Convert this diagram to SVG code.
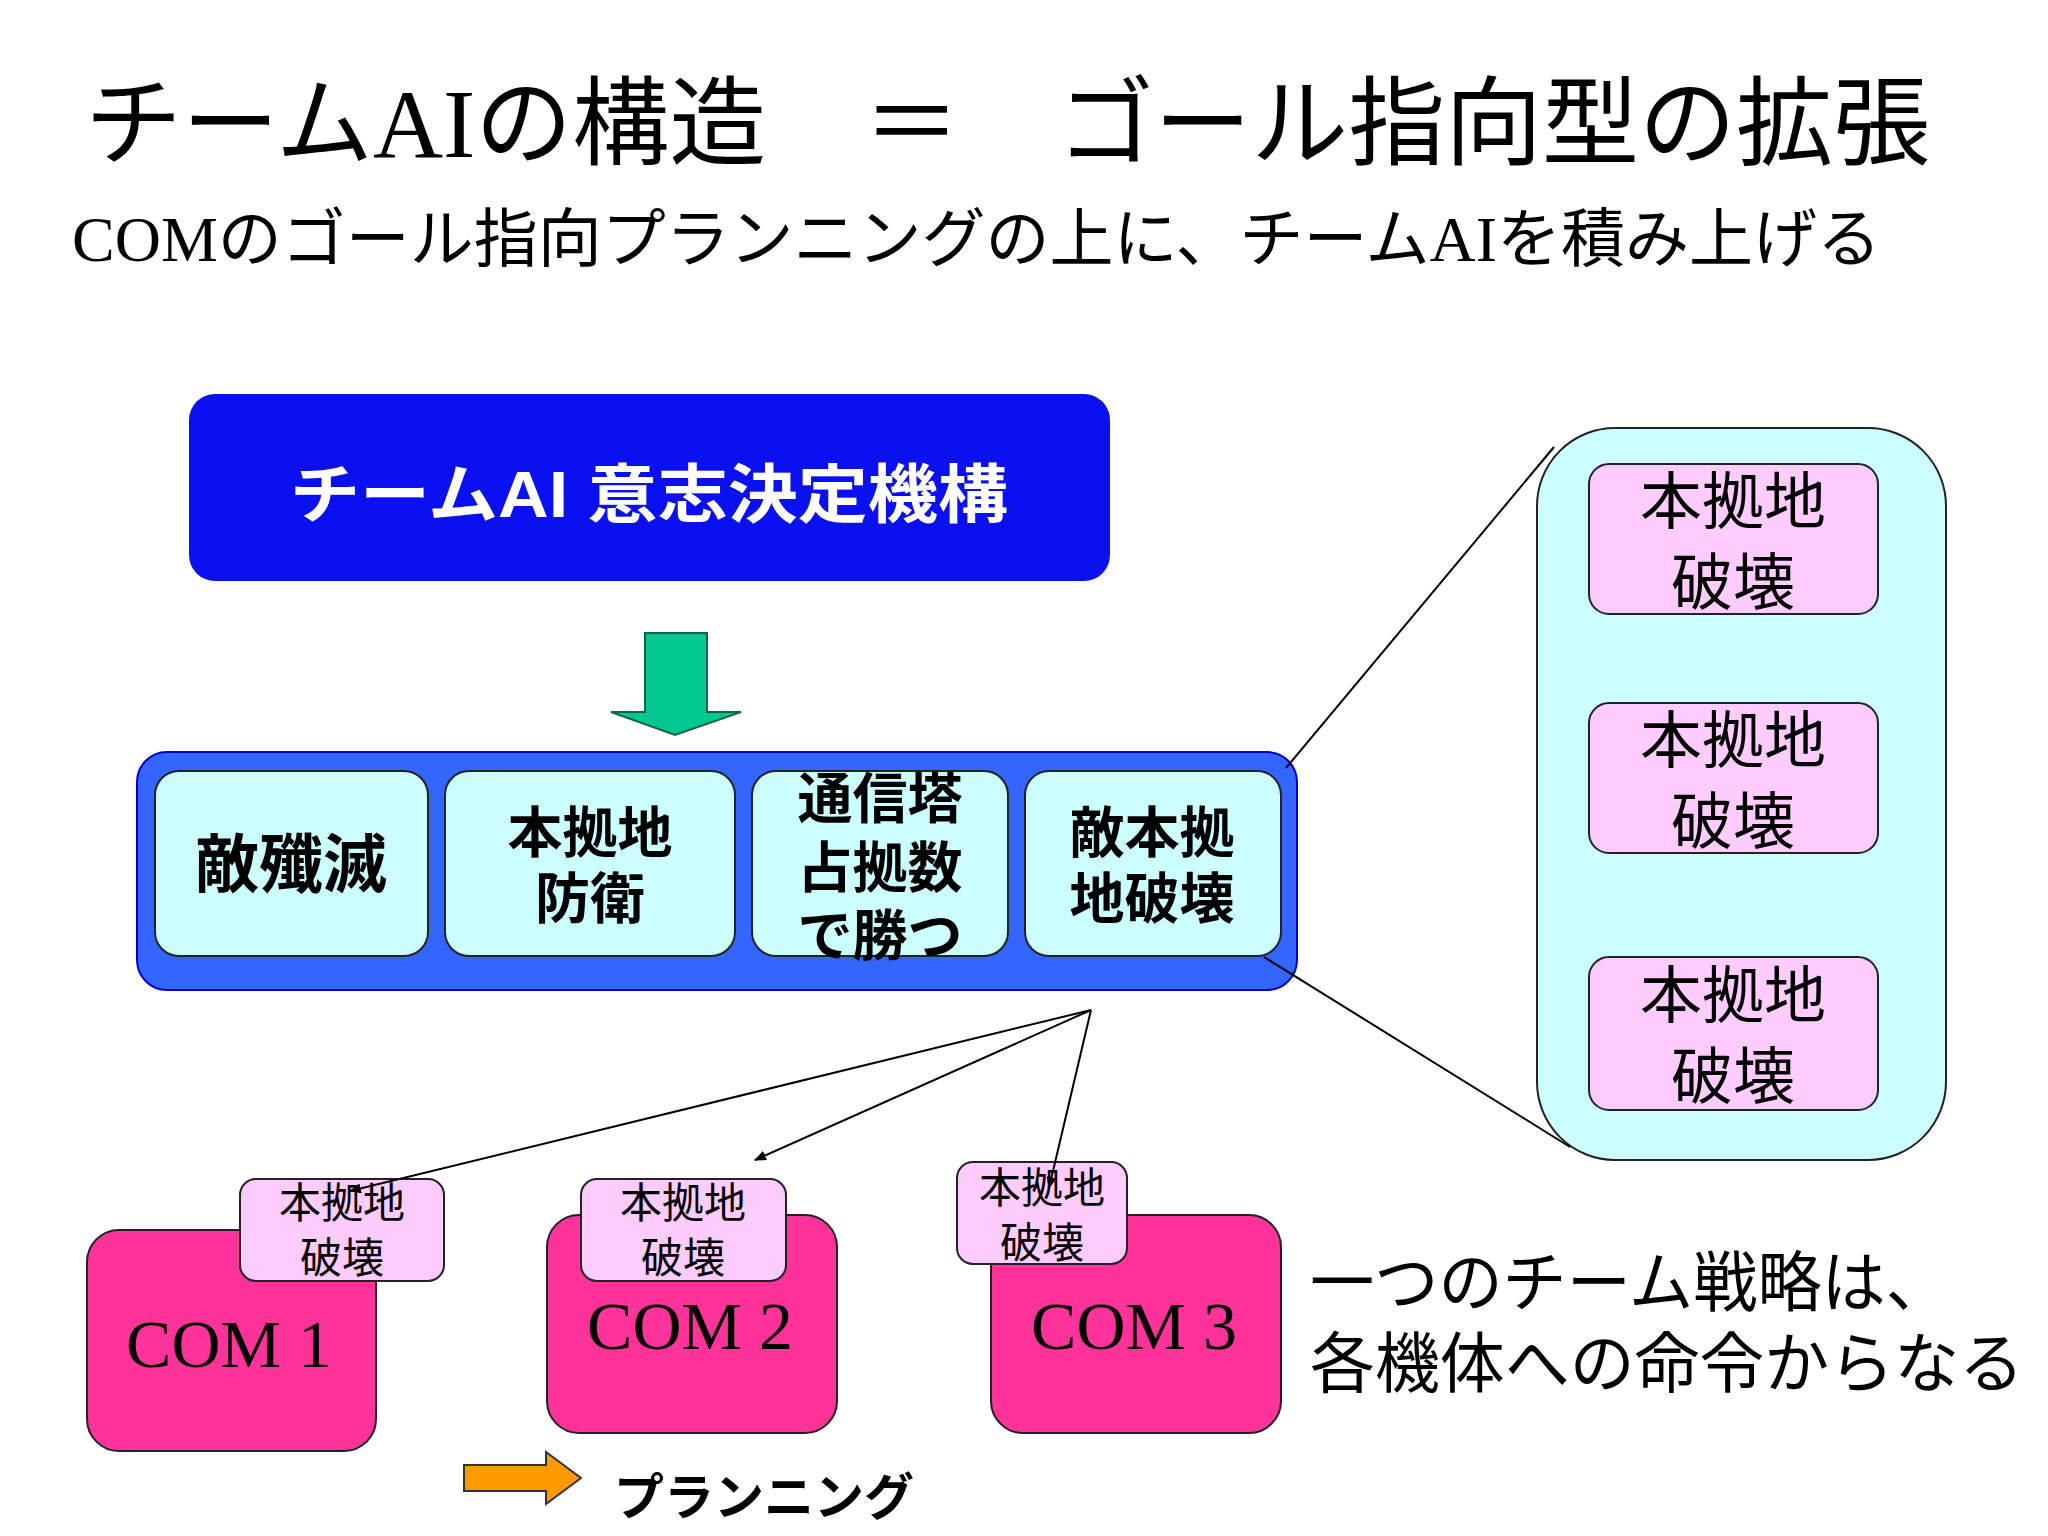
<svg xmlns="http://www.w3.org/2000/svg" width="2048" height="1536" viewBox="0 0 2048 1536">
<style>
.j{font-family:"Liberation Sans","Noto Sans CJK JP",sans-serif}
.s{font-family:"Liberation Serif","Noto Sans CJK JP",serif}
.b{font-weight:bold}
.cy{fill:#ccffff;stroke:#222;stroke-width:2}
.pk{fill:#ffccff;stroke:#222;stroke-width:2}
.com{fill:#ff3399;stroke:#222;stroke-width:2}
.ln{stroke:#000;stroke-width:2;fill:none}
</style>
<defs><marker id="ah" markerWidth="12" markerHeight="10" refX="11" refY="5" orient="auto" markerUnits="userSpaceOnUse"><path d="M0,0 L12,5 L0,10 Z" fill="#000"/></marker></defs>
<rect width="2048" height="1536" fill="#fff"/>
<text class="s" x="85" y="157" font-size="97" textLength="1845" lengthAdjust="spacingAndGlyphs">チームAIの構造　＝　ゴール指向型の拡張</text>
<text class="s" x="72" y="261" font-size="64" textLength="1809" lengthAdjust="spacingAndGlyphs">COMのゴール指向プランニングの上に、チームAIを積み上げる</text>
<g id="top"><rect x="189" y="394" width="921" height="187" rx="26" fill="#0a10f0"/>
<text class="j b" x="649" y="517" font-size="64" fill="#fff" text-anchor="middle" textLength="718" lengthAdjust="spacingAndGlyphs">チームAI  意志決定機構</text></g>
<g id="greenArrow"><path d="M645,633 H707 V712 H741 L675,735 L611,712 H645 Z" fill="#00c890" stroke="#116644" stroke-width="2"/></g>
<g id="strategies"><rect x="137" y="752" width="1160" height="238" rx="30" fill="#3366ff" stroke="#0000cc" stroke-width="2"/>
<rect class="cy" x="155" y="771" width="273" height="185" rx="24"/>
<text class="j b" x="291" y="887" font-size="64" text-anchor="middle">敵殲滅</text>
<rect class="cy" x="445" y="771" width="290" height="185" rx="24"/>
<text class="j b" x="590" y="852" font-size="55" text-anchor="middle">本拠地</text><text class="j b" x="590" y="918" font-size="55" text-anchor="middle">防衛</text>
<rect class="cy" x="752" y="771" width="256" height="185" rx="24"/>
<text class="j b" x="880" y="818" font-size="55" text-anchor="middle">通信塔</text><text class="j b" x="880" y="887" font-size="55" text-anchor="middle">占拠数</text><text class="j b" x="880" y="955" font-size="55" text-anchor="middle">で勝つ</text>
<rect class="cy" x="1025" y="771" width="256" height="185" rx="24"/>
<text class="j b" x="1152" y="852" font-size="55" text-anchor="middle">敵本拠</text><text class="j b" x="1152" y="918" font-size="55" text-anchor="middle">地破壊</text></g>
<g id="panel"><rect class="cy" x="1537" y="428" width="409" height="732" rx="78"/>
<rect class="pk" x="1589" y="464" width="289" height="150" rx="20"/>
<text class="j" x="1733" y="524" font-size="62" text-anchor="middle">本拠地</text><text class="j" x="1733" y="605" font-size="62" text-anchor="middle">破壊</text>
<rect class="pk" x="1589" y="703" width="289" height="150" rx="20"/>
<text class="j" x="1733" y="763" font-size="62" text-anchor="middle">本拠地</text><text class="j" x="1733" y="844" font-size="62" text-anchor="middle">破壊</text>
<rect class="pk" x="1589" y="957" width="289" height="153" rx="20"/>
<text class="j" x="1733" y="1018" font-size="62" text-anchor="middle">本拠地</text><text class="j" x="1733" y="1099" font-size="62" text-anchor="middle">破壊</text></g>
<g id="com1"><rect class="com" x="87" y="1230" width="289" height="221" rx="32"/>
<text class="s" x="229" y="1367" font-size="68" text-anchor="middle">COM 1</text>
<rect class="pk" x="240" y="1179" width="204" height="102" rx="16"/>
<text class="j" x="342" y="1218" font-size="42" text-anchor="middle">本拠地</text><text class="j" x="342" y="1273" font-size="42" text-anchor="middle">破壊</text></g>
<g id="com2"><rect class="com" x="547" y="1215" width="290" height="218" rx="32"/>
<text class="s" x="690" y="1349" font-size="68" text-anchor="middle">COM 2</text>
<rect class="pk" x="581" y="1179" width="205" height="102" rx="16"/>
<text class="j" x="683" y="1218" font-size="42" text-anchor="middle">本拠地</text><text class="j" x="683" y="1273" font-size="42" text-anchor="middle">破壊</text></g>
<g id="com3"><rect class="com" x="991" y="1215" width="290" height="218" rx="32"/>
<text class="s" x="1134" y="1349" font-size="68" text-anchor="middle">COM 3</text>
<rect class="pk" x="957" y="1162" width="170" height="102" rx="16"/>
<text class="j" x="1042" y="1203" font-size="42" text-anchor="middle">本拠地</text><text class="j" x="1042" y="1258" font-size="42" text-anchor="middle">破壊</text></g>
<g id="connectors">
<line class="ln" x1="1286" y1="768" x2="1554" y2="447"/>
<line class="ln" x1="1264" y1="957" x2="1570" y2="1147"/>
<line class="ln" x1="1091" y1="1010" x2="350" y2="1191" marker-end="url(#ah)"/>
<line class="ln" x1="1091" y1="1010" x2="755" y2="1160" marker-end="url(#ah)"/>
<line class="ln" x1="1091" y1="1010" x2="1049" y2="1188" marker-end="url(#ah)"/>
</g>
<text class="j" x="1310" y="1306" font-size="66" textLength="640" lengthAdjust="spacingAndGlyphs">一つのチーム戦略は、</text>
<text class="j" x="1310" y="1387" font-size="66" textLength="714" lengthAdjust="spacingAndGlyphs">各機体への命令からなる</text>
<g id="legend"><path d="M464,1465 H546 V1452 L581,1478 L546,1504 V1491 H464 Z" fill="#ff9900" stroke="#333" stroke-width="2"/>
<text class="j b" x="614" y="1515" font-size="50">プランニング</text></g>
</svg>
